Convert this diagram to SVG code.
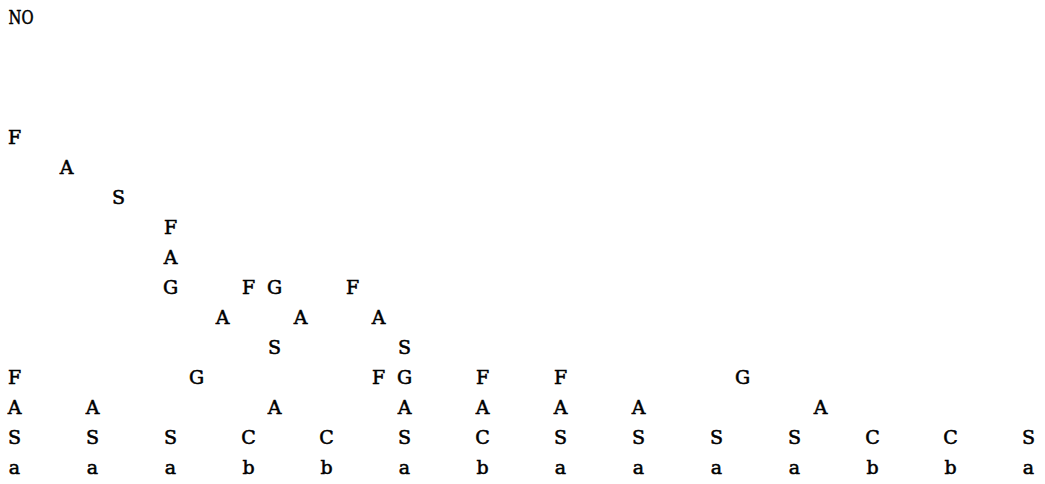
<svg xmlns="http://www.w3.org/2000/svg" width="1045" height="484" viewBox="0 0 1045 484">
<style>
text{font-family:"DejaVu Serif","Liberation Serif",serif;font-size:19px;fill:#000;stroke:#000;stroke-width:0.55px;text-anchor:middle}
text.hdr{text-anchor:start}
</style>
<rect width="1045" height="484" fill="#fff"/>
<g id="header">
<text class="hdr" x="8.5" y="24" textLength="25" lengthAdjust="spacingAndGlyphs">NO</text>
</g>
<g id="tree">
<text id="n1" x="14.5" y="144">F</text>
<text id="n2" x="66.5" y="174">A</text>
<text id="n3" x="118.5" y="204">S</text>
<text id="n4" x="170.5" y="234">F</text>
<text id="n5" x="170.5" y="264">A</text>
<g id="row9">
<text x="170.5" y="294">G</text><text x="248.5" y="294">F</text><text x="274.5" y="294">G</text><text x="352.5" y="294">F</text>
</g>
<g id="row10">
<text x="222.5" y="324">A</text><text x="300.5" y="324">A</text><text x="378.5" y="324">A</text>
</g>
<g id="row11">
<text x="274.5" y="354">S</text><text x="404.5" y="354">S</text>
</g>
<g id="row12">
<text x="14.5" y="384">F</text><text x="196.5" y="384">G</text><text x="378.5" y="384">F</text><text x="404.5" y="384">G</text><text x="482.5" y="384">F</text><text x="560.5" y="384">F</text><text x="742.5" y="384">G</text>
</g>
<g id="row13">
<text x="14.5" y="414">A</text><text x="92.5" y="414">A</text><text x="274.5" y="414">A</text><text x="404.5" y="414">A</text><text x="482.5" y="414">A</text><text x="560.5" y="414">A</text><text x="638.5" y="414">A</text><text x="820.5" y="414">A</text>
</g>
<g id="row14">
<text x="14.5" y="444">S</text><text x="92.5" y="444">S</text><text x="170.5" y="444">S</text><text x="248.5" y="444">C</text><text x="326.5" y="444">C</text><text x="404.5" y="444">S</text><text x="482.5" y="444">C</text><text x="560.5" y="444">S</text><text x="638.5" y="444">S</text><text x="716.5" y="444">S</text><text x="794.5" y="444">S</text><text x="872.5" y="444">C</text><text x="950.5" y="444">C</text><text x="1028.5" y="444">S</text>
</g>
<g id="row15">
<text x="14.5" y="474">a</text><text x="92.5" y="474">a</text><text x="170.5" y="474">a</text><text x="248.5" y="474">b</text><text x="326.5" y="474">b</text><text x="404.5" y="474">a</text><text x="482.5" y="474">b</text><text x="560.5" y="474">a</text><text x="638.5" y="474">a</text><text x="716.5" y="474">a</text><text x="794.5" y="474">a</text><text x="872.5" y="474">b</text><text x="950.5" y="474">b</text><text x="1028.5" y="474">a</text>
</g>
</g>
</svg>
